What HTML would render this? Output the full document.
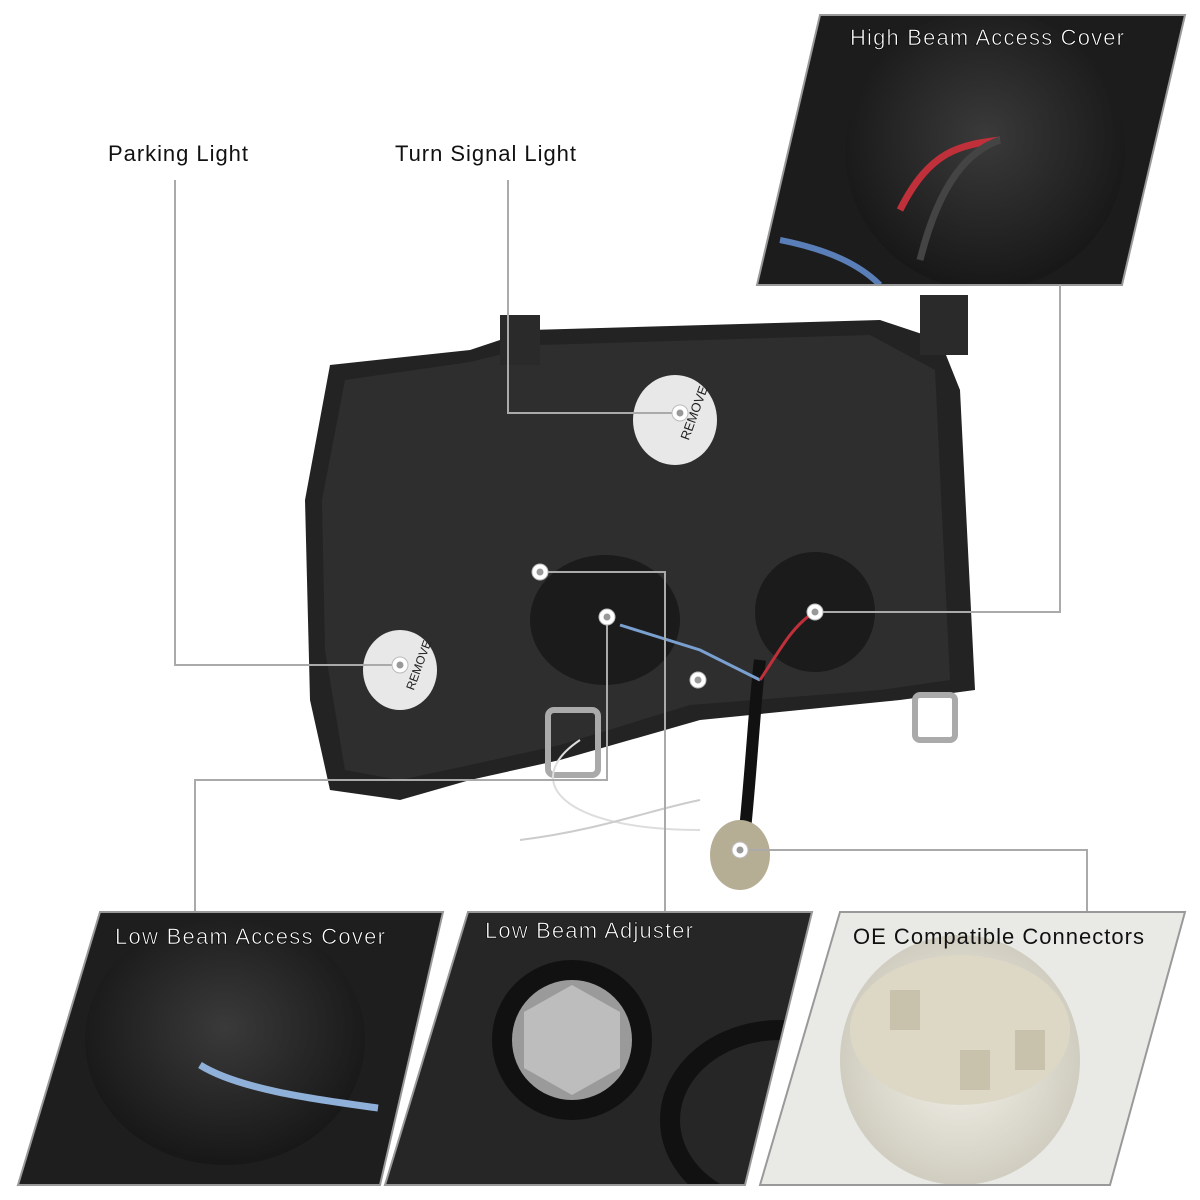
<!DOCTYPE html>
<html><head><meta charset="utf-8"><style>
html,body{margin:0;padding:0;background:#fff;}
svg{display:block}
text{font-family:"Liberation Sans",sans-serif;}
</style></head><body>
<svg width="1200" height="1200" viewBox="0 0 1200 1200">
<defs>
<radialGradient id="cap" cx="50%" cy="45%" r="60%"><stop offset="0" stop-color="#3a3a3a"/><stop offset="1" stop-color="#141414"/></radialGradient>
<radialGradient id="light" cx="50%" cy="50%" r="60%"><stop offset="0" stop-color="#f4f2ea"/><stop offset="1" stop-color="#c9c6b8"/></radialGradient>
<clipPath id="c1"><polygon points="820,15 1185,15 1122,285 757,285"/></clipPath>
<clipPath id="c2"><polygon points="100,912 443,912 380,1185 18,1185"/></clipPath>
<clipPath id="c3"><polygon points="468,912 812,912 745,1185 385,1185"/></clipPath>
<clipPath id="c4"><polygon points="840,912 1185,912 1110,1185 760,1185"/></clipPath>
</defs>
<!-- top-right panel -->
<g clip-path="url(#c1)">
<polygon points="820,15 1185,15 1122,285 757,285" fill="#1c1c1c"/>
<ellipse cx="985" cy="150" rx="140" ry="140" fill="url(#cap)"/>
<path d="M900 210 C 930 150, 960 145, 1000 140" stroke="#c0303a" stroke-width="7" fill="none"/>
<path d="M920 260 C 940 180, 970 150, 1000 140" stroke="#444" stroke-width="7" fill="none"/>
<path d="M780 240 C 830 250, 860 265, 880 285" stroke="#5a7fb8" stroke-width="6" fill="none"/>
</g>
<polygon points="820,15 1185,15 1122,285 757,285" fill="none" stroke="#999" stroke-width="2"/>
<text x="850" y="45" font-size="22" fill="#fff" stroke="#000" stroke-width="0.6" textLength="274">High Beam Access Cover</text>
<!-- headlight body -->
<path d="M330 365 L470 350 L530 330 L880 320 L940 340 L960 390 L975 690 L900 700 L700 720 L560 760 L470 780 L400 800 L330 790 L310 700 L305 500 Z" fill="#232323"/>
<path d="M345 380 L470 362 L540 345 L870 335 L935 370 L950 680 L880 690 L690 705 L560 745 L470 765 L400 780 L345 770 L325 650 L322 500 Z" fill="#2e2e2e"/>
<ellipse cx="605" cy="620" rx="75" ry="65" fill="#1b1b1b"/>
<ellipse cx="815" cy="612" rx="60" ry="60" fill="#1b1b1b"/>
<ellipse cx="675" cy="420" rx="42" ry="45" fill="#e8e8e8"/>
<text x="660" y="440" font-size="13" fill="#222" font-family="Liberation Serif" transform="rotate(-70 675 420)">REMOVE</text>
<ellipse cx="400" cy="670" rx="37" ry="40" fill="#e8e8e8"/>
<text x="385" y="690" font-size="12" fill="#222" font-family="Liberation Serif" transform="rotate(-70 400 670)">REMOVE</text>
<rect x="920" y="295" width="48" height="60" fill="#2a2a2a"/>
<rect x="500" y="315" width="40" height="50" fill="#2a2a2a"/>
<rect x="548" y="710" width="50" height="65" rx="6" fill="none" stroke="#aaa" stroke-width="6"/>
<rect x="915" y="695" width="40" height="45" rx="5" fill="none" stroke="#aaa" stroke-width="6"/>
<path d="M760 660 C 755 700, 752 760, 745 830" stroke="#111" stroke-width="12" fill="none"/>
<path d="M620 625 L700 650 L760 680" stroke="#7aa0d0" stroke-width="3" fill="none"/>
<path d="M760 680 C 780 650, 790 630, 810 615" stroke="#c0303a" stroke-width="3" fill="none"/>
<path d="M580 740 C 520 780, 560 830, 700 830" stroke="#ddd" stroke-width="2" fill="none"/>
<path d="M520 840 C 600 830, 650 810, 700 800" stroke="#ccc" stroke-width="2" fill="none"/>
<ellipse cx="740" cy="855" rx="30" ry="35" fill="#b5ae95"/>
<!-- leader lines -->
<g stroke="#aaa" stroke-width="2" fill="none">
<polyline points="175,180 175,665 400,665"/>
<polyline points="508,180 508,413 680,413"/>
<polyline points="1060,285 1060,612 815,612"/>
<polyline points="540,572 665,572 665,912"/>
<polyline points="607,617 607,780 195,780 195,912"/>
<polyline points="740,850 1087,850 1087,912"/>
</g>
<g fill="#fff" stroke="#bbb" stroke-width="1">
<circle cx="400" cy="665" r="8"/><circle cx="680" cy="413" r="8"/><circle cx="815" cy="612" r="8"/>
<circle cx="540" cy="572" r="8"/><circle cx="607" cy="617" r="8"/><circle cx="740" cy="850" r="8"/><circle cx="698" cy="680" r="8"/>
</g>
<g fill="#999"><circle cx="400" cy="665" r="3.5"/><circle cx="680" cy="413" r="3.5"/><circle cx="815" cy="612" r="3.5"/><circle cx="540" cy="572" r="3.5"/><circle cx="607" cy="617" r="3.5"/><circle cx="740" cy="850" r="3.5"/><circle cx="698" cy="680" r="3.5"/></g>
<text x="108" y="161" font-size="22" fill="#111" textLength="140">Parking Light</text>
<text x="395" y="161" font-size="22" fill="#111" textLength="181">Turn Signal Light</text>
<!-- bottom panels -->
<g clip-path="url(#c2)">
<polygon points="100,912 443,912 380,1185 18,1185" fill="#1e1e1e"/>
<ellipse cx="225" cy="1040" rx="140" ry="125" fill="url(#cap)"/>
<path d="M200 1065 C 240 1090, 320 1100, 378 1108" stroke="#8fb0d8" stroke-width="7" fill="none"/>
</g>
<polygon points="100,912 443,912 380,1185 18,1185" fill="none" stroke="#999" stroke-width="2"/>
<text x="115" y="944" font-size="22" fill="#fff" stroke="#000" stroke-width="0.6" textLength="270">Low Beam Access Cover</text>
<g clip-path="url(#c3)">
<polygon points="468,912 812,912 745,1185 385,1185" fill="#262626"/>
<circle cx="572" cy="1040" r="80" fill="#111"/>
<circle cx="572" cy="1040" r="60" fill="#9a9a9a"/>
<polygon points="572,985 620,1012 620,1068 572,1095 524,1068 524,1012" fill="#bdbdbd"/>
<ellipse cx="780" cy="1120" rx="110" ry="90" fill="none" stroke="#111" stroke-width="20"/>
</g>
<polygon points="468,912 812,912 745,1185 385,1185" fill="none" stroke="#999" stroke-width="2"/>
<text x="485" y="938" font-size="22" fill="#fff" stroke="#000" stroke-width="0.6" textLength="208">Low Beam Adjuster</text>
<g clip-path="url(#c4)">
<polygon points="840,912 1185,912 1110,1185 760,1185" fill="#e9e9e6"/>
<ellipse cx="960" cy="1060" rx="120" ry="125" fill="url(#light)"/>
<ellipse cx="960" cy="1030" rx="110" ry="75" fill="#ddd8c6"/>
<rect x="890" y="990" width="30" height="40" fill="#c8c2ad"/><rect x="960" y="1050" width="30" height="40" fill="#c8c2ad"/><rect x="1015" y="1030" width="30" height="40" fill="#c8c2ad"/>
</g>
<polygon points="840,912 1185,912 1110,1185 760,1185" fill="none" stroke="#999" stroke-width="2"/>
<text x="853" y="944" font-size="22" fill="#111" textLength="291">OE Compatible Connectors</text>
</svg>
</body></html>
